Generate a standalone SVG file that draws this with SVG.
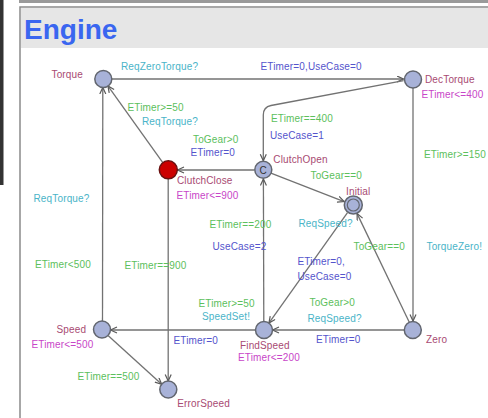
<svg xmlns="http://www.w3.org/2000/svg" width="488" height="418" viewBox="0 0 488 418">
<defs>
<marker id="arr" markerWidth="10" markerHeight="10" refX="7" refY="3.5" orient="auto" markerUnits="userSpaceOnUse">
<path d="M0.5,0.5 L7,3.5 L0.5,6.5" fill="none" stroke="#5a5a5a" stroke-width="1.2"/>
</marker>
<style>
text{font-family:"Liberation Sans",Arial,sans-serif;font-size:10px;letter-spacing:0.15px}
.nm{fill:#a84a72}
.inv{fill:#c846c8}
.gd{fill:#5cc05c}
.sy{fill:#4ab4c8}
.up{fill:#5454cc}
.loc{fill:#a8b2d8;stroke:#62666f;stroke-width:1.5}
.e{fill:none;stroke:#727272;stroke-width:1.3;marker-end:url(#arr)}
</style>
</defs>
<rect x="0" y="0" width="488" height="418" fill="#ffffff"/>
<rect x="0" y="0" width="3.5" height="185" fill="#333333"/>
<rect x="19" y="0" width="469" height="3" fill="#9a9a9a"/>
<rect x="20" y="7" width="480" height="420" fill="#ffffff" stroke="#8a8a8a" stroke-width="1.5"/>
<rect x="21" y="8" width="470" height="40" fill="#e6e6e6"/>
<text x="24" y="39" style="font-size:28px;font-weight:bold;fill:#3a66f0;letter-spacing:0">Engine</text>

<g id="connectors">
<line class="e" x1="111.5" y1="79" x2="403.5" y2="79"/>
<path class="e" d="M403.6,80.6 L271,105.5 Q263.3,107 263.3,115 L263.3,160.8"/>
<line class="e" x1="413" y1="88" x2="413" y2="321"/>
<line class="e" x1="254.5" y1="170" x2="177.5" y2="170"/>
<line class="e" x1="162.8" y1="162.7" x2="107.9" y2="85.9"/>
<line class="e" x1="270.9" y1="173.1" x2="344.1" y2="201.6"/>
<line class="e" x1="347.5" y1="212.7" x2="268.9" y2="323.1"/>
<line class="e" x1="409.3" y1="322.3" x2="357.1" y2="213.6"/>
<line class="e" x1="404.5" y1="330" x2="272.5" y2="330"/>
<line class="e" x1="263.8" y1="321.5" x2="263.4" y2="179"/>
<line class="e" x1="255.5" y1="330" x2="110.5" y2="330"/>
<line class="e" x1="102.5" y1="321.5" x2="102.8" y2="87.5"/>
<line class="e" x1="168.2" y1="179" x2="168.2" y2="381"/>
<line class="e" x1="108.3" y1="335.7" x2="161.7" y2="384.3"/>
</g>

<g id="edge-labels">
<text class="sy" x="121" y="70">ReqZeroTorque?</text>
<text class="up" x="260.5" y="70">ETimer=0,UseCase=0</text>
<text class="gd" x="271" y="122">ETimer==400</text>
<text class="up" x="270" y="139">UseCase=1</text>
<text class="gd" x="424" y="158">ETimer&gt;=150</text>
<text class="sy" x="426.5" y="249.5">TorqueZero!</text>
<text class="gd" x="193" y="143">ToGear&gt;0</text>
<text class="up" x="190.5" y="156">ETimer=0</text>
<text class="gd" x="127.5" y="111">ETimer&gt;=50</text>
<text class="sy" x="142" y="125">ReqTorque?</text>
<text class="gd" x="310.5" y="179">ToGear==0</text>
<text class="sy" x="298.5" y="227">ReqSpeed?</text>
<text class="up" x="297.5" y="264.5">ETimer=0,</text>
<text class="up" x="297.5" y="279.5">UseCase=0</text>
<text class="gd" x="353.5" y="249.5">ToGear==0</text>
<text class="gd" x="309.5" y="306">ToGear&gt;0</text>
<text class="sy" x="307.5" y="322">ReqSpeed?</text>
<text class="up" x="316" y="343">ETimer=0</text>
<text class="gd" x="209.5" y="228">ETimer==200</text>
<text class="up" x="212.5" y="249.5">UseCase=2</text>
<text class="gd" x="198.5" y="307">ETimer&gt;=50</text>
<text class="sy" x="202" y="320">SpeedSet!</text>
<text class="up" x="173.5" y="343.5">ETimer=0</text>
<text class="sy" x="33.5" y="202">ReqTorque?</text>
<text class="gd" x="35" y="267.5">ETimer&lt;500</text>
<text class="gd" x="124.5" y="268.5">ETimer==900</text>
<text class="gd" x="77.5" y="380">ETimer==500</text>
</g>

<g id="Torque">
<circle class="loc" cx="103.3" cy="79" r="8.5"/>
<text class="nm" x="51.5" y="78">Torque</text>
</g>
<g id="DecTorque">
<circle class="loc" cx="413" cy="79.5" r="8.5"/>
<text class="nm" x="425" y="82.5">DecTorque</text>
<text class="inv" x="421.5" y="97.5">ETimer&lt;=400</text>
</g>
<g id="ClutchClose">
<circle cx="168.3" cy="169.8" r="9" fill="#cc0000" stroke="#6a1010" stroke-width="1.5"/>
<text class="nm" x="177" y="184">ClutchClose</text>
<text class="inv" x="176.5" y="198.5">ETimer&lt;=900</text>
</g>
<g id="ClutchOpen">
<circle class="loc" cx="263.3" cy="169.8" r="8.5"/>
<text x="263.3" y="173.5" text-anchor="middle" style="font-size:10px;fill:#333">C</text>
<text class="nm" x="273.3" y="163">ClutchOpen</text>
</g>
<g id="Initial">
<circle class="loc" cx="353.3" cy="205" r="9"/>
<circle cx="353.3" cy="205" r="6" fill="none" stroke="#62666f" stroke-width="1.2"/>
<text class="nm" x="346" y="194.5">Initial</text>
</g>
<g id="Speed">
<circle class="loc" cx="102" cy="329.5" r="8.5"/>
<text class="nm" x="56.5" y="332.5">Speed</text>
<text class="inv" x="31.5" y="347.5">ETimer&lt;=500</text>
</g>
<g id="FindSpeed">
<circle class="loc" cx="264" cy="330" r="8.5"/>
<text class="nm" x="240" y="349">FindSpeed</text>
<text class="inv" x="238" y="361">ETimer&lt;=200</text>
</g>
<g id="Zero">
<circle class="loc" cx="412.8" cy="330" r="8.5"/>
<text class="nm" x="426" y="343">Zero</text>
</g>
<g id="ErrorSpeed">
<circle class="loc" cx="168.3" cy="389.5" r="8.5"/>
<text class="nm" x="177.3" y="407">ErrorSpeed</text>
</g>
</svg>
